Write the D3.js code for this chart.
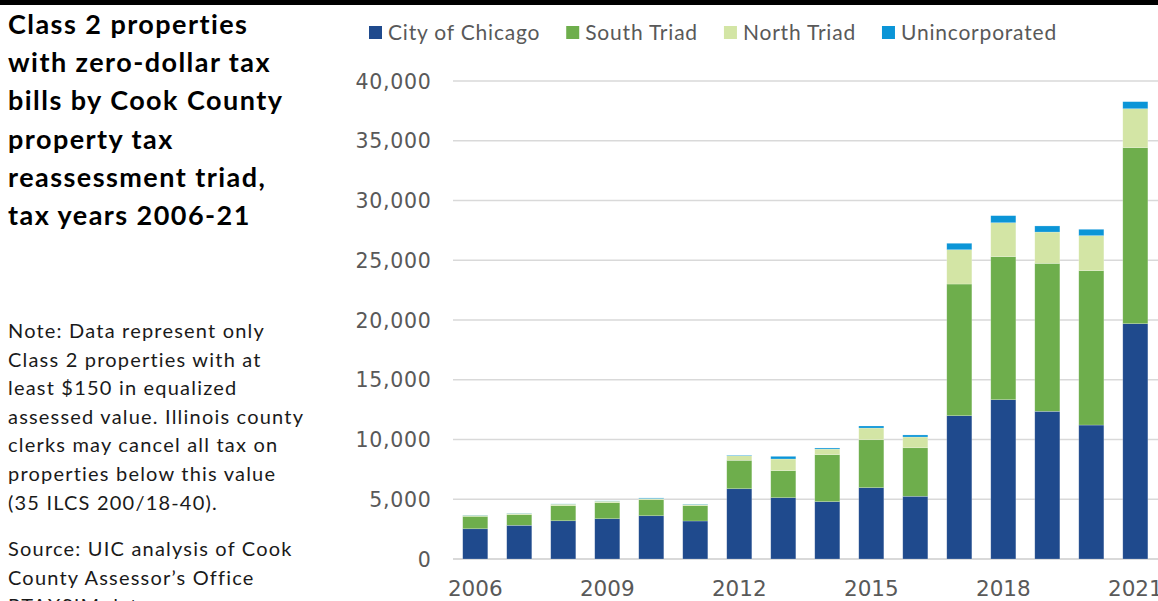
<!DOCTYPE html>
<html><head><meta charset="utf-8">
<script src="https://cdn.jsdelivr.net/npm/d3@7"></script>
<style>
body{margin:0;background:#fff;}
svg{display:block;}
</style></head>
<body>
<svg id="chart" width="1158" height="601"></svg>
<script>
const years = ["2006","2007","2008","2009","2010","2011","2012","2013","2014","2015","2016","2017","2018","2019","2020","2021"];
const seriesNames = ["City of Chicago","South Triad","North Triad","Unincorporated"];
const chicago = [2530,2820,3200,3370,3620,3180,5880,5130,4800,5970,5250,11990,13330,12360,11210,19690];
const southTriad = [1040,890,1260,1340,1340,1280,2380,2260,3930,4010,4060,11020,11970,12380,12920,14730];
const northTriad = [90,110,130,130,100,110,380,980,470,980,900,2870,2840,2620,2930,3260];
const unincorporated = [20,20,20,20,50,30,50,220,90,170,170,540,590,510,530,590];
const yTicks = [0,5000,10000,15000,20000,25000,30000,35000,40000];
const xTickLabels = ["2006","2009","2012","2015","2018","2021"];
const colors = ["#1F4A8D","#6EAE4C","#D3E5A5","#0B95D7"];
const titleLines = ["Class 2 properties","with zero-dollar tax","bills by Cook County","property tax","reassessment triad,","tax years 2006-21"];
const noteLines = ["Note: Data represent only","Class 2 properties with at","least $150 in equalized","assessed value. Illinois county","clerks may cancel all tax on","properties below this value","(35 ILCS 200/18-40)."];
const sourceLines = ["Source: UIC analysis of Cook","County Assessor\u2019s Office","PTAXSIM data."];

const svg = d3.select("#chart");
const W = 1158, H = 601;
const font = "Lato, 'Open Sans', sans-serif";
const numFont = "'DejaVu Sans', Lato, sans-serif";

svg.append("rect").attr("x",0).attr("y",0).attr("width",W).attr("height",5).attr("fill","#000");

const tt = svg.append("text").attr("font-family",font).attr("font-weight",700).attr("font-size",27).attr("letter-spacing",1.45).attr("fill","#000");
titleLines.forEach((l,i)=>tt.append("tspan").attr("x",8).attr("y",34+i*38.2).text(l));

const nt = svg.append("text").attr("font-family",font).attr("font-size",20).attr("letter-spacing",1.2).attr("fill","#1a1a1a");
noteLines.forEach((l,i)=>nt.append("tspan").attr("x",8).attr("y",338+i*28.6).text(l));
const st = svg.append("text").attr("font-family",font).attr("font-size",20).attr("letter-spacing",1.2).attr("fill","#1a1a1a");
sourceLines.forEach((l,i)=>st.append("tspan").attr("x",8).attr("y",556+i*28.6).text(l));

const y = d3.scaleLinear().domain([0,40000]).range([559,81]);
const x = d3.scaleBand().domain(years).range([443.8,1166.8]).paddingInner(0.43).paddingOuter(0.43);

svg.append("g").selectAll("line").data(yTicks).join("line")
  .attr("x1",453).attr("x2",W).attr("y1",d=>y(d)).attr("y2",d=>y(d))
  .attr("stroke","#d9d9d9").attr("stroke-width",d=>d===0?2:1.5);

const yAxis = d3.axisLeft(y).tickValues(yTicks).tickFormat(d3.format(",")).tickSize(0).tickPadding(0);
const yg = svg.append("g").attr("transform","translate(431.5,0)").call(yAxis);
yg.select(".domain").remove();
yg.selectAll("text").attr("font-family",numFont).attr("font-size",20.5).attr("letter-spacing",0.7).attr("fill","#595959").attr("dy","0.35em");

const xAxis = d3.axisBottom(x).tickValues(xTickLabels).tickSize(0).tickPadding(0);
const xg = svg.append("g").attr("transform","translate(0,581)").call(xAxis);
xg.select(".domain").remove();
xg.selectAll("text").attr("font-family",numFont).attr("font-size",21.5).attr("fill","#595959").attr("dy","0.71em");

const table = years.map((yr,i)=>({year:yr,"City of Chicago":chicago[i],"South Triad":southTriad[i],"North Triad":northTriad[i],"Unincorporated":unincorporated[i]}));
const stack = d3.stack().keys(seriesNames)(table);
const color = d3.scaleOrdinal().domain(seriesNames).range(colors);
svg.append("g").selectAll("g").data(stack).join("g").attr("fill",d=>color(d.key))
  .selectAll("rect").data(d=>d).join("rect")
  .attr("x",d=>x(d.data.year)).attr("width",x.bandwidth())
  .attr("y",d=>y(d[1])).attr("height",d=>Math.max(0,y(d[0])-y(d[1])))
  .attr("stroke","#ffffff").attr("stroke-opacity",0.35).attr("stroke-width",0.6);

const lg = svg.append("g").attr("transform","translate(369,0)");
let lx = 0;
seriesNames.forEach((n,i)=>{
  lg.append("rect").attr("x",lx).attr("y",26).attr("width",13).attr("height",13).attr("fill",colors[i]);
  const t = lg.append("text").attr("x",lx+19).attr("y",40).attr("font-family",font).attr("font-size",21).attr("letter-spacing",0.8).attr("fill","#595959").text(n);
  lx += 19 + t.node().getComputedTextLength() + 26;
});
</script>
</body></html>
